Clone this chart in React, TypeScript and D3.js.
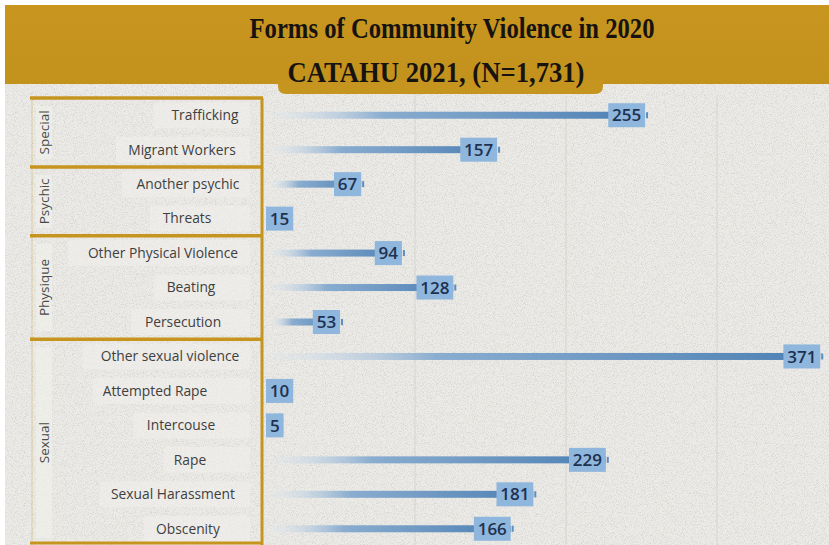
import React from "react";
import * as d3 from "d3";

const categories = [
  "Trafficking",
  "Migrant Workers",
  "Another psychic",
  "Threats",
  "Other Physical Violence",
  "Beating",
  "Persecution",
  "Other sexual violence",
  "Attempted Rape",
  "Intercouse",
  "Rape",
  "Sexual Harassment",
  "Obscenity",
];
const values = [255, 157, 67, 15, 94, 128, 53, 371, 10, 5, 229, 181, 166];
const groups = ["Special", "Psychic", "Physique", "Sexual"];
const groupSizes = [2, 2, 3, 6];
const gridTicks = [100, 200, 300];
const titleLine1 = "Forms of Community Violence in 2020";
const titleLine2 = "CATAHU 2021, (N=1,731)";

// layout: label text centers (px)
const labelCenters = [205, 182, 188, 187, 163, 191, 183, 170, 155, 181, 190, 173, 188];

const W = 829;
const H = 545;
const GOLD = "#c6951f";

export default function App() {
  const x = d3.scaleLinear().domain([0, 400]).range([264, 868]);
  const y = d3
    .scaleBand<number>()
    .domain(d3.range(categories.length))
    .range([98, 546])
    .paddingInner(0)
    .paddingOuter(0);
  const step = y.step();

  let acc = 0;
  const groupBounds = groupSizes.map((n, i) => {
    const start = acc;
    acc += n;
    return { name: groups[i], y0: y(start)!, y1: y(start)! + n * step };
  });

  const charW = 7.2;

  return (
    <div style={{ position: "absolute", left: 0, top: 0 }}>
      <style>{`body{margin:0}`}</style>
      <svg width={W} height={H} style={{ display: "block" }}>
        <defs>
          <filter id="noise" x="0" y="0" width="100%" height="100%">
            <feTurbulence type="fractalNoise" baseFrequency="1.1" numOctaves="2" seed="3" result="t" />
            <feColorMatrix
              in="t"
              type="matrix"
              values="0 0 0 0 0.5  0 0 0 0 0.5  0 0 0 0 0.48  0 0 0 2.2 -1.0"
            />
          </filter>
          <linearGradient id="barGrad" x1="0" x2="1" y1="0" y2="0">
            <stop offset="0" stopColor="#dbe6f1" stopOpacity="0.2" />
            <stop offset="0.3" stopColor="#7fa6cd" stopOpacity="0.9" />
            <stop offset="1" stopColor="#4c7fb3" />
          </linearGradient>
          <linearGradient id="bannerGrad" x1="0" x2="0" y1="0" y2="1">
            <stop offset="0" stopColor="#c8961f" />
            <stop offset="1" stopColor="#c3921d" />
          </linearGradient>
        </defs>
        <rect x={0} y={0} width={W} height={H} fill="#ffffff" />
        <rect x={5} y={5} width={W - 5} height={H - 5} fill="#ecebe7" />
        <rect x={5} y={5} width={W - 5} height={H - 5} filter="url(#noise)" opacity={0.6} />

        {/* gridlines */}
        {gridTicks.map((t) => (
          <line key={t} x1={x(t)} x2={x(t)} y1={96} y2={H} stroke="#d6d5d0" strokeWidth={1} />
        ))}

        {/* banner */}
        <rect x={5} y={5} width={W - 5} height={79} fill="url(#bannerGrad)" />
        <path
          d="M278,80 L603,80 L603,86 Q603,94 595,94 L286,94 Q278,94 278,86 Z"
          fill={GOLD}
        />
        <text
          x={452}
          y={38}
          textAnchor="middle"
          fontFamily="'Liberation Serif', serif"
          fontWeight="bold"
          fontSize={29}
          fill="#161310"
          textLength={405}
          lengthAdjust="spacingAndGlyphs"
        >
          {titleLine1}
        </text>
        <text
          x={436}
          y={82}
          textAnchor="middle"
          fontFamily="'Liberation Serif', serif"
          fontWeight="bold"
          fontSize={30}
          fill="#161310"
          textLength={297}
          lengthAdjust="spacingAndGlyphs"
        >
          {titleLine2}
        </text>

        {/* row labels */}
        {categories.map((c, i) => {
          const cy = y(i)! + step / 2;
          const w = c.length * charW;
          const left = labelCenters[i] - w / 2 - 12;
          return (
            <g key={c}>
              <rect x={left} y={cy - 13} width={250 - left} height={26} rx={3} fill="#f0efeb" opacity={0.6} />
              <text
                x={labelCenters[i]}
                y={cy}
                dy="0.35em"
                textAnchor="middle"
                fontFamily="'Open Sans', sans-serif"
                fontSize={13.8}
                fill="#3f3f3f"
              >
                {c}
              </text>
            </g>
          );
        })}

        {/* group brackets */}
        {groupBounds.map((g) => (
          <g key={g.name}>
            <rect x={36} y={g.y0 + 8} width={16} height={g.y1 - g.y0 - 16} fill="#f2f1ed" opacity={0.6} />
            <line x1={30} x2={263} y1={g.y0} y2={g.y0} stroke={GOLD} strokeWidth={3.5} />
            <line x1={262} x2={262} y1={g.y0} y2={g.y1} stroke={GOLD} strokeWidth={3} />
            <line x1={32} x2={32} y1={g.y0} y2={g.y1} stroke={GOLD} strokeWidth={1} opacity={0.35} />
            <text
              transform={`translate(44,${(g.y0 + g.y1) / 2}) rotate(-90)`}
              textAnchor="middle"
              dy="0.35em"
              fontFamily="'Open Sans', sans-serif"
              fontSize={13.5}
              fill="#4a4a4a"
            >
              {g.name}
            </text>
          </g>
        ))}
        <line x1={30} x2={263} y1={H - 2} y2={H - 2} stroke={GOLD} strokeWidth={3} />

        {/* bars */}
        {values.map((v, i) => {
          const cy = y(i)! + step / 2;
          const xe = x(v);
          const label = String(v);
          const bw = label.length * 9.6 + 8;
          const boxRight = Math.max(xe - 4, 266 + bw);
          const boxLeft = boxRight - bw;
          const barStart = 272;
          return (
            <g key={categories[i]}>
              {xe - 4 > barStart && (
                <rect x={barStart} y={cy - 3.5} width={xe - 4 - barStart} height={7} fill="url(#barGrad)" />
              )}
              <rect x={boxLeft} y={cy - 12} width={bw} height={24} fill="#8fb6dc" />
              <rect x={xe - 3} y={cy - 3} width={2} height={6} fill="#5d8cc0" opacity={v > 20 ? 1 : 0} />
              <text
                x={boxLeft + bw / 2}
                y={cy}
                dy="0.36em"
                textAnchor="middle"
                fontFamily="'Open Sans', sans-serif"
                fontWeight={600}
                fontSize={17}
                fill="#1d3150"
              >
                {label}
              </text>
            </g>
          );
        })}
      </svg>
    </div>
  );
}
